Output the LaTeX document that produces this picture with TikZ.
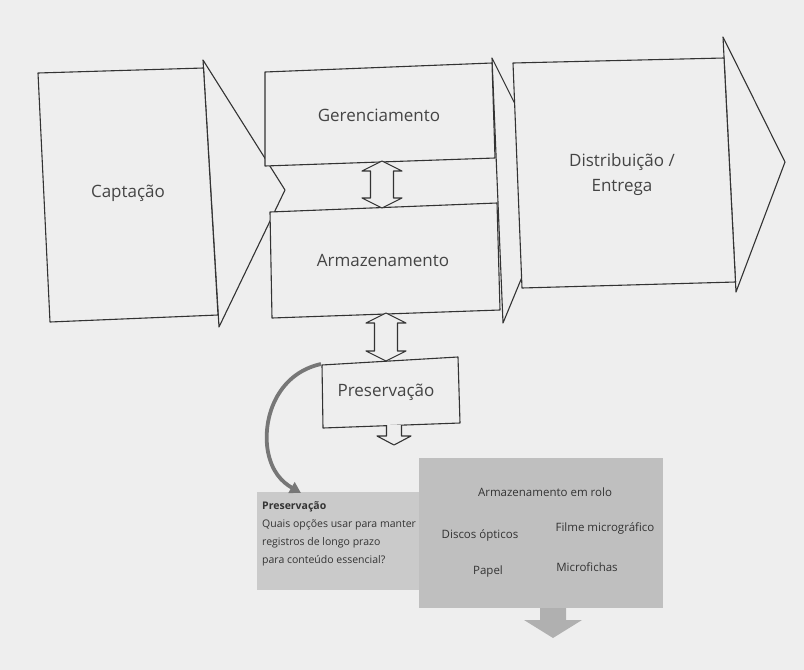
\documentclass[tikz,border=0pt]{standalone}
\usepackage{fontspec}
\setmainfont{Open Sans}
\usetikzlibrary{calc,arrows.meta}
\definecolor{paper}{HTML}{EEEEEE}
\definecolor{ink}{HTML}{333333}
\definecolor{textgray}{HTML}{444444}
\definecolor{panelA}{HTML}{CACACA}
\definecolor{panelB}{HTML}{BFBFBF}
\definecolor{curve}{HTML}{777777}
\begin{document}
\begin{tikzpicture}[x=1pt,y=-1pt,
  outline/.style={draw=ink, line width=1.1pt, fill=paper, line join=round},
  label/.style={text=textgray, font=\fontsize{17}{25}\selectfont, align=center, inner sep=0pt},
  note/.style={text=ink, font=\fontsize{10.5}{18}\selectfont, inner sep=0pt},
  item/.style={text=ink, font=\fontsize{11.5}{14}\selectfont, inner sep=0pt},
  % hollow double-headed arrow: length / shaft half width / head half width / head length
  pics/updown/.style args={#1/#2/#3/#4}{code={
    \draw[outline] (0,{-#1/2}) -- (#3,{-#1/2+#4}) -- (#2,{-#1/2+#4}) -- (#2,{#1/2-#4})
      -- (#3,{#1/2-#4}) -- (0,{#1/2}) -- (-#3,{#1/2-#4}) -- (-#2,{#1/2-#4})
      -- (-#2,{-#1/2+#4}) -- (-#3,{-#1/2+#4}) -- cycle;}},
  % hollow arrow hanging down from a box edge
  pics/down/.style args={#1/#2/#3/#4}{code={
    \draw[outline] (-#2,0) -- (-#2,{#1-#4}) -- (-#3,{#1-#4}) -- (0,#1)
      -- (#3,{#1-#4}) -- (#2,{#1-#4}) -- (#2,0);}}
]
% page
\fill[paper] (0,0) rectangle (804,670);

% chevron behind the middle column
\draw[outline] (492,58) -- (558,190) -- (503,323) -- cycle;
% Captação
\draw[outline] (203,60) -- (285,190) -- (219,327) -- cycle;
\draw[outline] (38,73) -- (203.5,68) -- (218,315) -- (50,322) -- cycle;
\node[label] (capt) at (128,193) {Captação};

% middle column
\draw[outline] (265,72) -- (492,63) -- (495,158) -- (265,166) -- cycle;
\node[label] (ger) at (379,115) {Gerenciamento};
\draw[outline] (270,212) -- (497,203) -- (500,310) -- (272,318) -- cycle;
\node[label] (arm) at (383,260) {Armazenamento};

% Distribuição / Entrega
\draw[outline] (723,37) -- (785,162) -- (736,292) -- cycle;
\draw[outline] (513,63) -- (724,58) -- (735.5,282) -- (522,288) -- cycle;
\node[label] (dist) at (622,175) {Distribuição /\\Entrega};

% links between the stages
\coordinate (gerB) at (382,161);
\coordinate (armT) at (382,208);
\pic at ($(gerB)!0.5!(armT)$) {updown=47/11.5/20/10};

% Preservação
\draw[outline] (322,365) -- (458,357) -- (460,423) -- (323,428) -- cycle;
\node[label] (pres) at (386,392) {Preservação};
\coordinate (armB) at (386,313);
\coordinate (presT) at (386,361);
\pic at ($(armB)!0.5!(presT)$) {updown=48/11.5/20/10};
\coordinate (presB) at (394,425);
\pic at (presB) {down=20/7.5/17/9};

% detail panels
\fill[panelA] (257,492) rectangle (430,590);
\fill[panelB] (419,458) rectangle (663,608);
\fill[panelB!92!black] (540,608) -- (540,620) -- (524,620) -- (553,638)
  -- (582,620) -- (566,620) -- (566,608) -- cycle;

\node[note, anchor=north west, align=left] (q) at (262,501)
  {\textbf{Preservação}\\Quais opções usar para manter\\registros de longo prazo\\para conteúdo essencial?};
\node[item] (rolo) at (545,492) {Armazenamento em rolo};
\node[item] (disc) at (480,535) {Discos ópticos};
\node[item] (film) at (605,528) {Filme micrográfico};
\node[item] (papel) at (488,572) {Papel};
\node[item] (micro) at (587,567) {Microfichas};

% callout from Preservação to its panel
\coordinate (presW) at (321,364);
\coordinate (qTop) at (301,493);
\draw[curve, line width=3.8pt, -{Triangle[length=11pt,width=12pt]}]
  (presW) .. controls (276,374) and (262,420) .. (268,452)
  .. controls (272,472) and (282,482) .. (qTop);
\end{tikzpicture}
\end{document}
